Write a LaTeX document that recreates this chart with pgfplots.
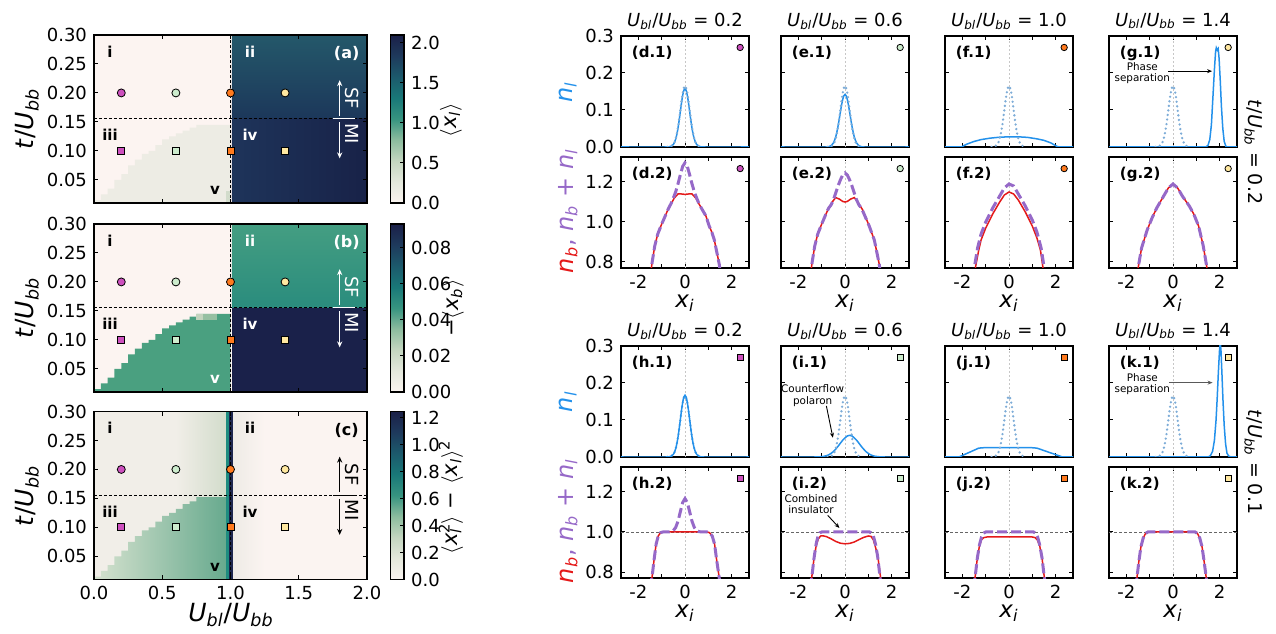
\documentclass[border=0pt]{standalone}
\usepackage{fontspec}
\setmainfont{DejaVu Sans}
\usepackage{pgfplots}
\usepackage{pgfplotstable}
\pgfplotsset{compat=1.18}
\usetikzlibrary{arrows.meta}

\newcommand{\fsz}[1]{\fontsize{#1}{#1}\selectfont}
\newcommand{\mi}[1]{\textit{#1}}
\newcommand{\sbi}[1]{\textsubscript{\textit{#1}}}
\newcommand{\Ubb}{\mi{U}\sbi{bb}}
\newcommand{\Ubl}{\mi{U}\sbi{bl}}

% markers
\definecolor{cMag}{RGB}{205,80,190}
\definecolor{cGrn}{RGB}{205,236,205}
\definecolor{cOrg}{RGB}{255,122,30}
\definecolor{cYel}{RGB}{255,232,160}
% profiles
\definecolor{nlblue}{RGB}{35,145,235}
\definecolor{refblue}{RGB}{125,172,215}
\definecolor{nbred}{RGB}{228,25,25}
\definecolor{sumpur}{RGB}{150,105,200}
% heatmap regions
\definecolor{aI}{RGB}{252,244,241}
\definecolor{aV}{RGB}{237,236,228}
\definecolor{aIIt}{RGB}{36,88,106}
\definecolor{aIIb}{RGB}{28,55,90}
\definecolor{aIVl}{RGB}{30,52,90}
\definecolor{aIVr}{RGB}{24,34,72}
\definecolor{bV}{RGB}{74,160,128}
\definecolor{bIIt}{RGB}{68,158,130}
\definecolor{bIIb}{RGB}{42,140,125}
\definecolor{bIV}{RGB}{26,33,74}
\definecolor{bT1}{RGB}{195,212,190}
\definecolor{bT2}{RGB}{150,192,162}
\definecolor{cI}{RGB}{241,238,232}
\definecolor{cIg}{RGB}{210,220,203}
\definecolor{cVl}{RGB}{214,226,207}
\definecolor{cVm}{RGB}{180,207,180}
\definecolor{cVr}{RGB}{100,168,140}
\definecolor{cCol1}{RGB}{30,140,128}
\definecolor{cCol2}{RGB}{28,38,78}
\definecolor{cR}{RGB}{251,244,241}
\definecolor{cRl}{RGB}{238,235,230}

\tikzset{
  p1/.style={/pgf/number format/fixed, /pgf/number format/fixed zerofill, /pgf/number format/precision=1},
  p2/.style={/pgf/number format/fixed, /pgf/number format/fixed zerofill, /pgf/number format/precision=2},
  plab/.style={font=\fsz{7.5}\bfseries, anchor=north west},
  ann/.style={font=\fontsize{5.2}{5.8}\selectfont, align=center},
  xil/.style={font=\fsz{11.5}, inner sep=0pt},
}

\pgfplotsset{
  every axis/.append style={
    /pgf/number format/assume math mode=true,
    tick label style={font=\fsz{9}},
    axis line style={line width=0.9pt},
    every tick/.style={black, line width=0.5pt},
    major tick length=2.2pt,
    tick align=inside,
  },
  colormap={hmap}{rgb255=(250,244,240) rgb255=(228,232,220) rgb255=(196,214,192)
    rgb255=(140,188,158) rgb255=(55,148,128) rgb255=(25,120,120) rgb255=(28,90,108)
    rgb255=(30,58,92) rgb255=(27,32,72)},
  hm/.style={scale only axis, width=136.5pt, height=84pt, anchor=south west,
    xmin=0, xmax=2, ymin=0.01, ymax=0.30, axis on top,
    xtick={0,0.5,1,1.5,2}, ytick={0.05,0.1,0.15,0.2,0.25,0.3},
    xtick pos=both, ytick pos=both,
    yticklabel style={p2}, xticklabel style={p1},
    colormap name=hmap, colorbar,
    colorbar style={scale only axis, width=6.85pt, height=84pt,
      at={(parent axis.north east)}, anchor=north west, xshift=3.2pt,
      ytick pos=right, yticklabel pos=right, tick align=inside,
      scaled y ticks=false}},
  rp/.style={scale only axis, width=64pt, height=55.5pt, anchor=south west,
    xmin=-2.75, xmax=2.75, xtick={-2,-1,0,1,2},
    xtick pos=both, ytick pos=both},
  rtop/.style={rp, ymin=0, ymax=0.3, ytick={0,0.1,0.2,0.3}, xticklabels={},
    yticklabel style={p1}},
  rbot/.style={rp, ymin=0.77, ymax=1.325, ytick={0.8,1.0,1.2}, xticklabels={-2,,0,,2},
    yticklabel style={p1}},
  noy/.style={yticklabels={}},
  vline/.style={black!22, line width=0.4pt, dash pattern=on 1pt off 1pt},
  hline/.style={black!60, line width=0.4pt, dash pattern=on 1.5pt off 1pt},
  sol/.style={nlblue, line width=0.75pt},
  refd/.style={refblue, line width=1.3pt, line cap=round, dash pattern=on 0pt off 2.3pt, smooth},
  redl/.style={nbred, line width=0.75pt},
  purl/.style={sumpur, line width=1.5pt, dash pattern=on 5pt off 2pt},
}

% staircase boundary of region v (panels a, b)
\pgfplotstableread{
x y
0 0.01
0 0.015
0.05 0.015
0.05 0.025
0.10 0.025
0.10 0.035
0.15 0.035
0.15 0.05
0.20 0.05
0.20 0.06
0.25 0.06
0.25 0.075
0.30 0.075
0.30 0.085
0.35 0.085
0.35 0.095
0.40 0.095
0.40 0.10
0.45 0.10
0.45 0.11
0.50 0.11
0.50 0.12
0.55 0.12
0.55 0.125
0.60 0.125
0.60 0.13
0.65 0.13
0.65 0.135
0.70 0.135
0.70 0.14
0.75 0.14
0.75 0.145
1.00 0.145
1.00 0.01
}\stairab
% staircase of panel c
\pgfplotstableread{
x y
0 0.01
0 0.015
0.05 0.015
0.05 0.025
0.10 0.025
0.10 0.035
0.15 0.035
0.15 0.05
0.20 0.05
0.20 0.06
0.25 0.06
0.25 0.075
0.30 0.075
0.30 0.085
0.35 0.085
0.35 0.095
0.40 0.095
0.40 0.10
0.45 0.10
0.45 0.11
0.50 0.11
0.50 0.12
0.55 0.12
0.55 0.125
0.60 0.125
0.60 0.132
0.65 0.132
0.65 0.14
0.70 0.14
0.70 0.145
0.75 0.145
0.75 0.152
1.00 0.152
1.00 0.01
}\stairc
% reference n_l (dotted)
\pgfplotstableread{
x y
-0.75 0
-0.7 0.0004
-0.6 0.0018
-0.5 0.0072
-0.4 0.0223
-0.3 0.0536
-0.2 0.1001
-0.1 0.1456
0 0.165
0.1 0.1456
0.2 0.1001
0.3 0.0536
0.4 0.0223
0.5 0.0072
0.6 0.0018
0.7 0.0004
0.75 0
}\refnl
% g.2 (n_b and n_b+n_l equal)
\pgfplotstableread{
x y
-1.55 0.72
-1.5 0.77
-1.35 0.87
-1.11 0.96
-0.9 1.02
-0.7 1.07
-0.4 1.13
-0.2 1.17
0 1.19
0.2 1.17
0.4 1.13
0.7 1.08
0.89 1.04
1.1 0.98
1.3 0.88
1.46 0.77
1.52 0.72
}\gtwo
% k.2 (n_b and n_b+n_l equal)
\pgfplotstableread{
x y
-1.6 0.72
-1.55 0.77
-1.47 0.85
-1.38 0.925
-1.28 0.97
-1.18 0.993
-1.08 1.0
0.95 1.0
1.05 0.993
1.15 0.97
1.25 0.925
1.34 0.85
1.43 0.77
1.47 0.72
}\ktwo

\newcommand{\hmmarks}{
  \addplot[only marks, mark=*, mark size=2pt, mark options={fill=cMag, draw=black, line width=0.4pt}] coordinates {(0.2,0.2)};
  \addplot[only marks, mark=*, mark size=2pt, mark options={fill=cGrn, draw=black, line width=0.4pt}] coordinates {(0.6,0.2)};
  \addplot[only marks, mark=*, mark size=2pt, mark options={fill=cOrg, draw=black, line width=0.4pt}] coordinates {(1.0,0.2)};
  \addplot[only marks, mark=*, mark size=2pt, mark options={fill=cYel, draw=black, line width=0.4pt}] coordinates {(1.4,0.2)};
  \addplot[only marks, mark=square*, mark size=1.75pt, mark options={fill=cMag, draw=black, line width=0.4pt}] coordinates {(0.2,0.1)};
  \addplot[only marks, mark=square*, mark size=1.75pt, mark options={fill=cGrn, draw=black, line width=0.4pt}] coordinates {(0.6,0.1)};
  \addplot[only marks, mark=square*, mark size=1.75pt, mark options={fill=cOrg, draw=black, line width=0.4pt}] coordinates {(1.0,0.1)};
  \addplot[only marks, mark=square*, mark size=1.75pt, mark options={fill=cYel, draw=black, line width=0.4pt}] coordinates {(1.4,0.1)};
}
\newcommand{\hmlines}{
  \addplot[black, line width=0.5pt, dash pattern=on 1.5pt off 1pt] coordinates {(1,0.01)(1,0.30)};
  \addplot[black, line width=0.5pt, dash pattern=on 1.5pt off 1pt] coordinates {(0,0.155)(2,0.155)};
}
% #1 colour of arrows/labels
\newcommand{\sfmi}[1]{
  \draw[#1, line width=0.6pt, -{Stealth[length=3pt, width=2.6pt]}] (axis cs:1.8,0.161) -- (axis cs:1.8,0.222);
  \draw[#1, line width=0.6pt, -{Stealth[length=3pt, width=2.6pt]}] (axis cs:1.8,0.149) -- (axis cs:1.8,0.087);
  \draw[#1, line width=0.6pt] (axis cs:1.75,0.1555) -- (axis cs:1.91,0.1555);
  \node[text=#1, rotate=-90, font=\fsz{9}] at (axis cs:1.888,0.191) {SF};
  \node[text=#1, rotate=-90, font=\fsz{9}] at (axis cs:1.888,0.13) {MI};
}
% #1..#6 colours of i, ii, iii, iv, v, panel tag; #7 tag
\newcommand{\rlabs}[7]{
  \node[text=#1, font=\fsz{7.5}\bfseries] at (axis cs:0.117,0.271) {i};
  \node[text=#2, font=\fsz{7.5}\bfseries] at (axis cs:1.143,0.271) {ii};
  \node[text=#3, font=\fsz{7.5}\bfseries] at (axis cs:0.117,0.127) {iii};
  \node[text=#4, font=\fsz{7.5}\bfseries] at (axis cs:1.143,0.127) {iv};
  \node[text=#5, font=\fsz{7.5}\bfseries] at (axis cs:0.886,0.031) {v};
  \node[text=#6, font=\fsz{8}\bfseries] at (axis cs:1.851,0.268) {#7};
}

\begin{document}
\begin{tikzpicture}
\useasboundingbox (0,0) rectangle (638pt,316.5pt);

% ---------------- (a) ----------------
\begin{axis}[hm, at={(47pt,215pt)}, xticklabels={},
  point meta min=0, point meta max=2.1,
  colorbar style={ytick={0,0.5,1,1.5,2}, yticklabel style={p1}}]
\addplot[draw=none, fill=aI] coordinates {(0,0.01)(1.01,0.01)(1.01,0.30)(0,0.30)} -- cycle;
\addplot[draw=none, fill=aV] table {\stairab} -- cycle;
\addplot[draw=none, fill=cIg] coordinates {(0.97,0.01)(1.0,0.01)(1.0,0.03)(0.97,0.03)} -- cycle;
\addplot[draw=none, top color=aIIt, bottom color=aIIb] coordinates {(1.01,0.155)(2,0.155)(2,0.30)(1.01,0.30)} -- cycle;
\addplot[draw=none, left color=aIVl, right color=aIVr] coordinates {(1.01,0.01)(2,0.01)(2,0.155)(1.01,0.155)} -- cycle;
\hmlines
\hmmarks
\sfmi{white}
\rlabs{black}{white}{black}{white}{black}{white}{(a)}
\end{axis}

% ---------------- (b) ----------------
\begin{axis}[hm, at={(47pt,120.5pt)}, xticklabels={},
  point meta min=0, point meta max=0.093,
  colorbar style={ytick={0,0.02,0.04,0.06,0.08}, yticklabel style={p2}}]
\addplot[draw=none, fill=aI] coordinates {(0,0.01)(1.01,0.01)(1.01,0.30)(0,0.30)} -- cycle;
\addplot[draw=none, fill=bV] table {\stairab} -- cycle;
\addplot[draw=none, fill=bT1] coordinates {(0.75,0.135)(0.80,0.135)(0.80,0.145)(0.75,0.145)} -- cycle;
\addplot[draw=none, fill=bT2] coordinates {(0.80,0.135)(0.90,0.135)(0.90,0.145)(0.80,0.145)} -- cycle;
\addplot[draw=none, top color=bIIt, bottom color=bIIb] coordinates {(1.01,0.155)(2,0.155)(2,0.30)(1.01,0.30)} -- cycle;
\addplot[draw=none, fill=bIV] coordinates {(1.01,0.01)(2,0.01)(2,0.155)(1.01,0.155)} -- cycle;
\hmlines
\hmmarks
\sfmi{white}
\rlabs{black}{white}{black}{white}{white}{white}{(b)}
\end{axis}

% ---------------- (c) ----------------
\begin{axis}[hm, at={(47pt,26.75pt)},
  point meta min=0, point meta max=1.245,
  colorbar style={ytick={0,0.2,0.4,0.6,0.8,1.0,1.2}, yticklabel style={p1}}]
\addplot[draw=none, fill=cI] coordinates {(0,0.01)(0.97,0.01)(0.97,0.30)(0,0.30)} -- cycle;
\addplot[draw=none, left color=cI, right color=cIg] coordinates {(0.6,0.01)(0.97,0.01)(0.97,0.30)(0.6,0.30)} -- cycle;
\addplot[draw=none, left color=cVl, middle color=cVm, right color=cVr] table {\stairc} -- cycle;
\addplot[draw=none, fill=cCol1] coordinates {(0.97,0.01)(0.99,0.01)(0.99,0.30)(0.97,0.30)} -- cycle;
\addplot[draw=none, fill=cCol2] coordinates {(0.99,0.01)(1.02,0.01)(1.02,0.30)(0.99,0.30)} -- cycle;
\addplot[draw=none, fill=cR] coordinates {(1.02,0.01)(2,0.01)(2,0.30)(1.02,0.30)} -- cycle;
\addplot[draw=none, left color=cRl, right color=cR] coordinates {(1.02,0.01)(1.25,0.01)(1.25,0.30)(1.02,0.30)} -- cycle;
\hmlines
\hmmarks
\sfmi{black}
\rlabs{black}{black}{black}{black}{black}{black}{(c)}
\end{axis}

% left labels
\node[rotate=90, font=\fsz{12.5}] at (13.5pt,257pt) {\mi{t}/\Ubb};
\node[rotate=90, font=\fsz{12.5}] at (13.5pt,162.5pt) {\mi{t}/\Ubb};
\node[rotate=90, font=\fsz{12.5}] at (13.5pt,68.5pt) {\mi{t}/\Ubb};
\node[font=\fsz{12.5}, inner sep=0pt] at (115.5pt,9pt) {\Ubl/\Ubb};
\node[rotate=90, font=\fsz{10.5}, inner sep=0pt] at (225.5pt,256.5pt) {$\langle$\mi{x}\sbi{l}$\rangle$};
\node[rotate=90, font=\fsz{10.5}, inner sep=0pt] at (226.5pt,162.5pt) {−$\langle$\mi{x}\sbi{b}$\rangle$};
\node[rotate=90, font=\fsz{10.5}, inner sep=0pt] at (225.5pt,68pt) {$\langle$\mi{x}\rlap{\textsuperscript{2}}\sbi{l}\,$\rangle$ − $\langle$\mi{x}\sbi{l}$\rangle$\textsuperscript{2}};

% ================= right block, t/U_bb = 0.2 =================
% (d.1)
\begin{axis}[rtop, at={(310.5pt,243pt)}]
\addplot[vline] coordinates {(0,0)(0,0.3)};
\addplot[sol, smooth] coordinates {(-2.75,0)(-0.8,0)(-0.7,0.0004)(-0.6,0.0017)(-0.5,0.0069)(-0.45,0.0125)(-0.4,0.0214)(-0.35,0.0342)(-0.3,0.0513)(-0.25,0.0723)(-0.2,0.0959)(-0.15,0.1192)(-0.1,0.1394)(-0.05,0.1531)(0,0.158)(0.05,0.1531)(0.1,0.1394)(0.15,0.1192)(0.2,0.0959)(0.25,0.0723)(0.3,0.0513)(0.35,0.0342)(0.4,0.0214)(0.45,0.0125)(0.5,0.0069)(0.6,0.0017)(0.7,0.0004)(0.8,0)(2.75,0)};
\addplot[refd] table {\refnl};
\addplot[only marks, mark=*, mark size=1.6pt, mark options={fill=cMag, draw=black, line width=0.4pt}] coordinates {(2.37,0.269)};
\node[plab] at (rel axis cs:0.03,0.975) {(d.1)};
\end{axis}
% (e.1)
\begin{axis}[rtop, noy, at={(390.5pt,243pt)}]
\addplot[vline] coordinates {(0,0)(0,0.3)};
\addplot[sol, smooth] coordinates {(-2.75,0)(-0.8,0)(-0.7,0.0009)(-0.6,0.0034)(-0.5,0.0107)(-0.45,0.0175)(-0.4,0.0272)(-0.35,0.0401)(-0.3,0.056)(-0.25,0.0745)(-0.2,0.0939)(-0.15,0.1125)(-0.1,0.1281)(-0.05,0.1384)(0,0.142)(0.05,0.1384)(0.1,0.1281)(0.15,0.1125)(0.2,0.0939)(0.25,0.0745)(0.3,0.056)(0.35,0.0401)(0.4,0.0272)(0.45,0.0175)(0.5,0.0107)(0.6,0.0034)(0.7,0.0009)(0.8,0)(2.75,0)};
\addplot[refd] table {\refnl};
\addplot[only marks, mark=*, mark size=1.6pt, mark options={fill=cGrn, draw=black, line width=0.4pt}] coordinates {(2.37,0.269)};
\node[plab] at (rel axis cs:0.03,0.975) {(e.1)};
\end{axis}
% (f.1)
\begin{axis}[rtop, noy, at={(472.5pt,243pt)}]
\addplot[vline] coordinates {(0,0)(0,0.3)};
\addplot[sol] coordinates {(-2.75,0)(-2.05,0)(-1.9,0.005)(-1.8,0.008)(-1.5,0.015)(-1.2,0.02)(-0.8,0.024)(-0.4,0.0265)(0,0.0275)(0.4,0.0275)(0.8,0.026)(1.2,0.022)(1.5,0.018)(1.8,0.011)(2.05,0.002)(2.15,0)(2.75,0)};
\addplot[refd] table {\refnl};
\addplot[only marks, mark=*, mark size=1.6pt, mark options={fill=cOrg, draw=black, line width=0.4pt}] coordinates {(2.37,0.269)};
\node[plab] at (rel axis cs:0.03,0.975) {(f.1)};
\end{axis}
% (g.1)
\begin{axis}[rtop, noy, at={(554.5pt,243pt)}]
\addplot[vline] coordinates {(0,0)(0,0.3)};
\addplot[sol] coordinates {(-2.75,0)(1.4,0)(1.5,0.004)(1.58,0.02)(1.65,0.06)(1.72,0.14)(1.78,0.21)(1.83,0.258)(1.86,0.268)(1.9,0.262)(1.94,0.266)(1.98,0.24)(2.03,0.18)(2.08,0.11)(2.14,0.05)(2.2,0.015)(2.27,0.002)(2.32,0)(2.75,0)};
\addplot[refd] table {\refnl};
\addplot[only marks, mark=*, mark size=1.6pt, mark options={fill=cYel, draw=black, line width=0.4pt}] coordinates {(2.37,0.269)};
\draw[black, line width=0.45pt, -{Stealth[length=2.5pt, width=2pt]}] (axis cs:-0.2,0.205) -- (axis cs:1.68,0.205);
\node[ann] at (axis cs:-1.32,0.2) {Phase\\separation};
\node[plab] at (rel axis cs:0.03,0.975) {(g.1)};
\end{axis}
% (d.2)
\begin{axis}[rbot, at={(310.5pt,182.5pt)}]
\addplot[vline] coordinates {(0,0.77)(0,1.325)};
\addplot[redl] coordinates {(-1.5,0.72)(-1.41,0.80)(-1.3,0.88)(-1.17,0.94)(-1.0,0.99)(-0.85,1.03)(-0.74,1.06)(-0.6,1.09)(-0.46,1.12)(-0.3,1.14)(-0.15,1.14)(0,1.138)(0.15,1.14)(0.3,1.14)(0.46,1.12)(0.6,1.09)(0.76,1.06)(0.9,1.03)(1.04,0.98)(1.15,0.95)(1.26,0.91)(1.47,0.79)(1.55,0.72)};
\addplot[purl] coordinates {(-1.5,0.72)(-1.41,0.80)(-1.3,0.88)(-1.17,0.94)(-1.0,0.99)(-0.85,1.03)(-0.7,1.07)(-0.6,1.092)(-0.5,1.12)(-0.4,1.151)(-0.3,1.191)(-0.2,1.236)(-0.1,1.278)(0,1.296)(0.1,1.278)(0.2,1.236)(0.3,1.191)(0.4,1.151)(0.5,1.12)(0.6,1.092)(0.7,1.07)(0.9,1.03)(1.04,0.98)(1.15,0.95)(1.26,0.91)(1.47,0.79)(1.55,0.72)};
\addplot[only marks, mark=*, mark size=1.6pt, mark options={fill=cMag, draw=black, line width=0.4pt}] coordinates {(2.37,1.267)};
\node[plab] at (rel axis cs:0.03,0.975) {(d.2)};
\end{axis}
% (e.2)
\begin{axis}[rbot, noy, at={(390.5pt,182.5pt)}]
\addplot[vline] coordinates {(0,0.77)(0,1.325)};
\addplot[redl] coordinates {(-1.5,0.72)(-1.41,0.80)(-1.3,0.88)(-1.17,0.94)(-1.0,0.99)(-0.74,1.06)(-0.55,1.10)(-0.4,1.122)(-0.25,1.115)(-0.1,1.103)(0,1.10)(0.1,1.103)(0.25,1.115)(0.4,1.122)(0.55,1.10)(0.76,1.06)(1.04,0.98)(1.26,0.91)(1.47,0.79)(1.55,0.72)};
\addplot[purl] coordinates {(-1.5,0.72)(-1.41,0.80)(-1.3,0.88)(-1.17,0.94)(-1.0,0.99)(-0.8,1.045)(-0.7,1.07)(-0.6,1.085)(-0.5,1.11)(-0.4,1.145)(-0.3,1.18)(-0.2,1.21)(-0.1,1.235)(0,1.245)(0.1,1.235)(0.2,1.21)(0.3,1.18)(0.4,1.145)(0.5,1.11)(0.6,1.085)(0.7,1.07)(0.8,1.045)(1.04,0.98)(1.26,0.91)(1.47,0.79)(1.55,0.72)};
\addplot[only marks, mark=*, mark size=1.6pt, mark options={fill=cGrn, draw=black, line width=0.4pt}] coordinates {(2.37,1.267)};
\node[plab] at (rel axis cs:0.03,0.975) {(e.2)};
\end{axis}
% (f.2)
\begin{axis}[rbot, noy, at={(472.5pt,182.5pt)}]
\addplot[vline] coordinates {(0,0.77)(0,1.325)};
\addplot[redl] coordinates {(-1.5,0.72)(-1.43,0.78)(-1.3,0.86)(-1.2,0.91)(-1.0,0.97)(-0.7,1.04)(-0.4,1.10)(-0.2,1.135)(0,1.15)(0.2,1.14)(0.4,1.11)(0.7,1.05)(1.0,0.98)(1.2,0.92)(1.35,0.86)(1.45,0.78)(1.52,0.72)};
\addplot[purl] coordinates {(-1.55,0.72)(-1.48,0.78)(-1.35,0.87)(-1.2,0.94)(-1.0,1.0)(-0.7,1.07)(-0.4,1.13)(-0.2,1.17)(0,1.19)(0.2,1.18)(0.4,1.14)(0.7,1.08)(1.0,1.01)(1.2,0.95)(1.38,0.87)(1.5,0.78)(1.56,0.72)};
\addplot[only marks, mark=*, mark size=1.6pt, mark options={fill=cOrg, draw=black, line width=0.4pt}] coordinates {(2.37,1.267)};
\node[plab] at (rel axis cs:0.03,0.975) {(f.2)};
\end{axis}
% (g.2)
\begin{axis}[rbot, noy, at={(554.5pt,182.5pt)}]
\addplot[vline] coordinates {(0,0.77)(0,1.325)};
\addplot[redl] table {\gtwo};
\addplot[purl] table {\gtwo};
\addplot[only marks, mark=*, mark size=1.6pt, mark options={fill=cYel, draw=black, line width=0.4pt}] coordinates {(2.37,1.267)};
\node[plab] at (rel axis cs:0.03,0.975) {(g.2)};
\end{axis}

% ================= right block, t/U_bb = 0.1 =================
% (h.1)
\begin{axis}[rtop, at={(310.5pt,88pt)}]
\addplot[vline] coordinates {(0,0)(0,0.3)};
\addplot[refd] table {\refnl};
\addplot[sol, smooth] coordinates {(-2.75,0)(-0.8,0)(-0.7,0.0004)(-0.6,0.0019)(-0.5,0.0073)(-0.45,0.0133)(-0.4,0.0226)(-0.35,0.0361)(-0.3,0.0542)(-0.25,0.0765)(-0.2,0.1013)(-0.15,0.126)(-0.1,0.1474)(-0.05,0.1619)(0,0.167)(0.05,0.1619)(0.1,0.1474)(0.15,0.126)(0.2,0.1013)(0.25,0.0765)(0.3,0.0542)(0.35,0.0361)(0.4,0.0226)(0.45,0.0133)(0.5,0.0073)(0.6,0.0019)(0.7,0.0004)(0.8,0)(2.75,0)};
\addplot[only marks, mark=square*, mark size=1.5pt, mark options={fill=cMag, draw=black, line width=0.4pt}] coordinates {(2.37,0.269)};
\node[plab] at (rel axis cs:0.03,0.975) {(h.1)};
\end{axis}
% (i.1)
\begin{axis}[rtop, noy, at={(390.5pt,88pt)}]
\addplot[vline] coordinates {(0,0)(0,0.3)};
\addplot[sol, smooth] coordinates {(-2.75,0)(-1.3,0)(-1.1,0.0005)(-0.9,0.0019)(-0.7,0.0059)(-0.5,0.0146)(-0.3,0.0288)(-0.1,0.0453)(0.1,0.0569)(0.2,0.0585)(0.3,0.0569)(0.5,0.0453)(0.7,0.0288)(0.9,0.0146)(1.1,0.0059)(1.3,0.0019)(1.5,0.0005)(1.7,0)(2.75,0)};
\addplot[refd] table {\refnl};
\addplot[only marks, mark=square*, mark size=1.5pt, mark options={fill=cGrn, draw=black, line width=0.4pt}] coordinates {(2.37,0.269)};
\draw[black, line width=0.45pt, -{Stealth[length=2.5pt, width=2pt]}] (axis cs:-0.8,0.138) -- (axis cs:-0.52,0.052);
\node[ann] at (axis cs:-1.39,0.166) {Counterflow\\polaron};
\node[plab] at (rel axis cs:0.03,0.975) {(i.1)};
\end{axis}
% (j.1)
\begin{axis}[rtop, noy, at={(472.5pt,88pt)}]
\addplot[vline] coordinates {(0,0)(0,0.3)};
\addplot[sol] coordinates {(-2.75,0)(-2.15,0)(-1.3,0.024)(-1.1,0.025)(1.0,0.025)(1.2,0.024)(2.3,0)(2.75,0)};
\addplot[refd] table {\refnl};
\addplot[only marks, mark=square*, mark size=1.5pt, mark options={fill=cOrg, draw=black, line width=0.4pt}] coordinates {(2.37,0.269)};
\node[plab] at (rel axis cs:0.03,0.975) {(j.1)};
\end{axis}
% (k.1)
\begin{axis}[rtop, noy, at={(554.5pt,88pt)}]
\addplot[vline] coordinates {(0,0)(0,0.3)};
\addplot[sol] coordinates {(-2.75,0)(1.5,0)(1.6,0.003)(1.7,0.015)(1.78,0.045)(1.85,0.1)(1.9,0.16)(1.95,0.23)(2.0,0.29)(2.03,0.31)(2.06,0.29)(2.1,0.23)(2.15,0.15)(2.2,0.085)(2.26,0.035)(2.32,0.01)(2.4,0.002)(2.5,0)(2.75,0)};
\addplot[refd] table {\refnl};
\addplot[only marks, mark=square*, mark size=1.5pt, mark options={fill=cYel, draw=black, line width=0.4pt}] coordinates {(2.37,0.269)};
\draw[black!65, line width=0.45pt, -{Stealth[length=2.5pt, width=2pt]}] (axis cs:-0.16,0.201) -- (axis cs:1.7,0.201);
\node[ann] at (axis cs:-1.32,0.197) {Phase\\separation};
\node[plab] at (rel axis cs:0.03,0.975) {(k.1)};
\end{axis}
% (h.2)
\begin{axis}[rbot, at={(310.5pt,27.5pt)}]
\addplot[vline] coordinates {(0,0.77)(0,1.325)};
\addplot[hline] coordinates {(-2.75,1)(2.75,1)};
\addplot[redl] coordinates {(-1.5,0.72)(-1.41,0.78)(-1.33,0.86)(-1.24,0.94)(-1.15,0.98)(-1.05,0.997)(-0.95,1.0)(0.95,1.0)(1.05,0.997)(1.17,0.98)(1.27,0.94)(1.36,0.86)(1.46,0.78)(1.52,0.72)};
\addplot[purl] coordinates {(-1.5,0.72)(-1.41,0.78)(-1.33,0.86)(-1.24,0.94)(-1.15,0.98)(-1.05,0.997)(-0.95,1.0)(-0.7,1.0004)(-0.6,1.0019)(-0.5,1.0073)(-0.4,1.0226)(-0.3,1.0542)(-0.2,1.1013)(-0.1,1.1474)(0,1.167)(0.1,1.1474)(0.2,1.1013)(0.3,1.0542)(0.4,1.0226)(0.5,1.0073)(0.6,1.0019)(0.7,1.0004)(0.95,1.0)(1.05,0.997)(1.17,0.98)(1.27,0.94)(1.36,0.86)(1.46,0.78)(1.52,0.72)};
\addplot[only marks, mark=square*, mark size=1.5pt, mark options={fill=cMag, draw=black, line width=0.4pt}] coordinates {(2.37,1.267)};
\node[plab] at (rel axis cs:0.03,0.975) {(h.2)};
\end{axis}
% (i.2)
\begin{axis}[rbot, noy, at={(390.5pt,27.5pt)}]
\addplot[vline] coordinates {(0,0.77)(0,1.325)};
\addplot[hline] coordinates {(-2.75,1)(2.75,1)};
\addplot[redl] coordinates {(-1.5,0.72)(-1.41,0.79)(-1.33,0.87)(-1.24,0.93)(-1.15,0.965)(-1.05,0.98)(-0.95,0.981)(-0.8,0.977)(-0.6,0.966)(-0.4,0.953)(-0.2,0.944)(0,0.941)(0.2,0.943)(0.4,0.95)(0.6,0.962)(0.8,0.973)(1.0,0.98)(1.12,0.978)(1.22,0.96)(1.32,0.92)(1.42,0.87)(1.5,0.8)(1.58,0.72)};
\addplot[purl] coordinates {(-1.5,0.72)(-1.41,0.79)(-1.33,0.87)(-1.24,0.94)(-1.16,0.98)(-1.08,0.996)(-1.0,1.0)(1.05,1.0)(1.13,0.996)(1.22,0.98)(1.31,0.94)(1.4,0.88)(1.48,0.8)(1.56,0.72)};
\addplot[only marks, mark=square*, mark size=1.5pt, mark options={fill=cGrn, draw=black, line width=0.4pt}] coordinates {(2.37,1.267)};
\draw[black, line width=0.45pt, -{Stealth[length=2.5pt, width=2pt]}] (axis cs:-0.74,1.083) -- (axis cs:-0.24,1.02);
\node[ann] at (axis cs:-1.46,1.139) {Combined\\insulator};
\node[plab] at (rel axis cs:0.03,0.975) {(i.2)};
\end{axis}
% (j.2)
\begin{axis}[rbot, noy, at={(472.5pt,27.5pt)}]
\addplot[vline] coordinates {(0,0.77)(0,1.325)};
\addplot[hline] coordinates {(-2.75,1)(2.75,1)};
\addplot[redl] coordinates {(-1.52,0.72)(-1.44,0.79)(-1.36,0.87)(-1.27,0.93)(-1.18,0.962)(-1.08,0.972)(-0.95,0.975)(1.0,0.975)(1.12,0.972)(1.22,0.96)(1.32,0.93)(1.42,0.87)(1.5,0.79)(1.58,0.72)};
\addplot[purl] coordinates {(-1.52,0.72)(-1.44,0.79)(-1.36,0.87)(-1.27,0.935)(-1.18,0.975)(-1.1,0.994)(-1.0,1.0)(1.05,1.0)(1.15,0.994)(1.23,0.975)(1.32,0.935)(1.42,0.87)(1.5,0.79)(1.58,0.72)};
\addplot[only marks, mark=square*, mark size=1.5pt, mark options={fill=cOrg, draw=black, line width=0.4pt}] coordinates {(2.37,1.267)};
\node[plab] at (rel axis cs:0.03,0.975) {(j.2)};
\end{axis}
% (k.2)
\begin{axis}[rbot, noy, at={(554.5pt,27.5pt)}]
\addplot[vline] coordinates {(0,0.77)(0,1.325)};
\addplot[hline] coordinates {(-2.75,1)(2.75,1)};
\addplot[redl] table {\ktwo};
\addplot[purl] table {\ktwo};
\addplot[only marks, mark=square*, mark size=1.5pt, mark options={fill=cYel, draw=black, line width=0.4pt}] coordinates {(2.37,1.267)};
\node[plab] at (rel axis cs:0.03,0.975) {(k.2)};
\end{axis}

% column titles and shared labels
\node[font=\fsz{9}] at (342.5pt,306pt) {\Ubl/\Ubb{} = 0.2};
\node[font=\fsz{9}] at (422.5pt,306pt) {\Ubl/\Ubb{} = 0.6};
\node[font=\fsz{9}] at (504.5pt,306pt) {\Ubl/\Ubb{} = 1.0};
\node[font=\fsz{9}] at (586.5pt,306pt) {\Ubl/\Ubb{} = 1.4};
\node[font=\fsz{9}] at (342.5pt,151pt) {\Ubl/\Ubb{} = 0.2};
\node[font=\fsz{9}] at (422.5pt,151pt) {\Ubl/\Ubb{} = 0.6};
\node[font=\fsz{9}] at (504.5pt,151pt) {\Ubl/\Ubb{} = 1.0};
\node[font=\fsz{9}] at (586.5pt,151pt) {\Ubl/\Ubb{} = 1.4};
\node[xil] at (342.5pt,165pt) {\mi{x}\sbi{i}};
\node[xil] at (422.5pt,165pt) {\mi{x}\sbi{i}};
\node[xil] at (504.5pt,165pt) {\mi{x}\sbi{i}};
\node[xil] at (586.5pt,165pt) {\mi{x}\sbi{i}};
\node[xil] at (342.5pt,10pt) {\mi{x}\sbi{i}};
\node[xil] at (422.5pt,10pt) {\mi{x}\sbi{i}};
\node[xil] at (504.5pt,10pt) {\mi{x}\sbi{i}};
\node[xil] at (586.5pt,10pt) {\mi{x}\sbi{i}};
\node[rotate=90, font=\fsz{12}, text=nlblue] at (284pt,270.5pt) {\mi{n}\sbi{l}};
\node[rotate=90, font=\fsz{12}, text=nlblue] at (284pt,115.6pt) {\mi{n}\sbi{l}};
\node[rotate=90, font=\fsz{12}] at (284pt,211pt) {\textcolor{nbred}{\mi{n}\sbi{b}}\textcolor{sumpur}{, \mi{n}\sbi{b} + \mi{n}\sbi{l}}};
\node[rotate=90, font=\fsz{12}] at (284pt,56pt) {\textcolor{nbred}{\mi{n}\sbi{b}}\textcolor{sumpur}{, \mi{n}\sbi{b} + \mi{n}\sbi{l}}};
\node[rotate=-90, font=\fsz{9.5}] at (626.75pt,240.5pt) {\mi{t}/\Ubb{} = 0.2};
\node[rotate=-90, font=\fsz{9.5}] at (626.75pt,85.5pt) {\mi{t}/\Ubb{} = 0.1};
\end{tikzpicture}
\end{document}
